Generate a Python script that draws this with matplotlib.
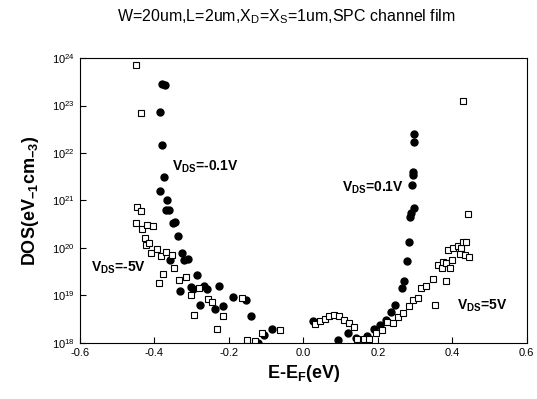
"""DOS vs E-EF for SPC channel film TFT, Vds = +/-0.1V and +/-5V."""

import numpy as np
import matplotlib
matplotlib.use("Agg")
import matplotlib.pyplot as plt

plt.rcParams["font.family"] = ["Liberation Sans", "DejaVu Sans"]
plt.rcParams["mathtext.fontset"] = "custom"
plt.rcParams["mathtext.rm"] = "Liberation Sans"
plt.rcParams["mathtext.bf"] = "Liberation Sans:bold"

# Vds = +/-0.1V (filled circles): energy (eV), log10(DOS)
e_01 = [-0.380, -0.373, -0.385, -0.379, -0.375, -0.384, -0.366, -0.369, -0.360,
        -0.350, -0.344, -0.336, -0.327, -0.321, -0.309, -0.357, -0.287, -0.332,
        -0.303, -0.296, -0.267, -0.260, -0.226, -0.278, -0.238, -0.215, -0.188,
        -0.153, -0.142, -0.106, -0.085, -0.123,
        0.025, 0.093, 0.121, 0.142, 0.170, 0.189, 0.205, 0.222, 0.235, 0.247,
        0.264, 0.270, 0.279, 0.284, 0.287, 0.289, 0.297, 0.293, 0.295, 0.295,
        0.297, 0.297]
log_01 = [23.45, 23.43, 22.86, 22.17, 21.49, 21.19, 21.01, 20.81, 20.81,
          20.52, 20.55, 20.25, 19.89, 19.75, 19.77, 19.75, 19.43, 19.10,
          19.17, 19.13, 19.21, 19.13, 19.20, 18.81, 18.71, 18.78, 18.96,
          18.91, 18.56, 18.16, 18.29, 18.00,
          18.46, 18.06, 18.20, 18.10, 18.15, 18.29, 18.38, 18.49, 18.66, 18.79,
          19.16, 19.31, 19.73, 20.13, 20.65, 20.73, 20.84, 21.33, 21.54, 21.60,
          22.24, 22.39]

# Vds = +/-5V (open squares)
e_5 = [-0.450, -0.437, -0.448, -0.437, -0.450, -0.434, -0.419, -0.403, -0.426,
       -0.423, -0.414, -0.408, -0.393, -0.382, -0.368, -0.354, -0.348, -0.377,
       -0.387, -0.333, -0.314, -0.302, -0.280, -0.294, -0.257, -0.246, -0.231,
       -0.215, -0.166, -0.151, -0.130, -0.110, -0.062,
       0.031, 0.044, 0.058, 0.070, 0.083, 0.096, 0.109, 0.123, 0.136, 0.144,
       0.162, 0.177, 0.195, 0.210, 0.225, 0.241, 0.254, 0.268, 0.283, 0.295,
       0.308, 0.317, 0.330, 0.347, 0.354, 0.362, 0.371, 0.375, 0.384, 0.393,
       0.383, 0.389, 0.401, 0.398, 0.415, 0.423, 0.429, 0.438, 0.421, 0.435,
       0.446, 0.442, 0.429]
log_5 = [23.85, 22.85, 20.87, 20.78, 20.52, 20.41, 20.49, 20.46, 20.22,
         20.07, 20.11, 19.89, 19.98, 19.83, 19.91, 19.85, 19.58, 19.45,
         19.26, 19.32, 19.39, 19.00, 19.15, 18.58, 18.92, 18.86, 18.30,
         18.57, 18.94, 18.06, 18.05, 18.22, 18.27,
         18.39, 18.46, 18.51, 18.57, 18.59, 18.56, 18.48, 18.43, 18.33, 18.09,
         18.08, 18.09, 18.20, 18.27, 18.44, 18.43, 18.55, 18.63, 18.78, 18.91,
         18.94, 19.16, 19.21, 19.34, 18.79, 19.64, 19.57, 19.71, 19.69, 19.58,
         19.30, 19.95, 19.99, 19.75, 20.05, 19.99, 20.12, 20.13, 19.88, 19.85,
         19.80, 20.71, 23.09]

dos_01 = 10 ** np.array(log_01)
dos_5 = 10 ** np.array(log_5)

fig = plt.figure(figsize=(5.37, 3.99), dpi=100)
ax = fig.add_axes([0.149, 0.1404, 0.832, 0.7142])

ax.plot(e_01, dos_01, "o", color="black", markersize=5, linestyle="none")
ax.plot(e_5, dos_5, "s", markerfacecolor="white", markeredgecolor="black",
        markeredgewidth=0.8, markersize=4.5, linestyle="none")

ax.set_yscale("log")
ax.set_xlim(-0.6, 0.6)
ax.set_ylim(1e18, 1e24)
ax.set_xticks([-0.6, -0.4, -0.2, 0.0, 0.2, 0.4, 0.6])
ax.set_xticklabels(["-0.6", "-0.4", "-0.2", "0.0", "0.2", "0.4", "0.6"])
ax.set_yticks([10.0 ** k for k in range(18, 25)])
ax.minorticks_off()
ax.tick_params(direction="in", labelsize=8, length=4, width=0.8,
               top=False, right=False)
for sp in ax.spines.values():
    sp.set_linewidth(0.8)

ax.set_xlabel(r"E-E$_{\mathbf{F}}$(eV)", fontsize=13, fontweight="bold",
              labelpad=4)
ax.set_ylabel(r"DOS(eV$_{\mathbf{-1}}$cm$_{\mathbf{-3}}$)", fontsize=13,
              fontweight="bold", labelpad=8)

lab = dict(fontsize=10, fontweight="bold", va="center", ha="left")
ax.text(-0.353, 10 ** 21.71, r"V$_{\mathbf{DS}}$=-0.1V", **lab)
ax.text(-0.570, 10 ** 19.58, r"V$_{\mathbf{DS}}$=-5V", **lab)
ax.text(0.105, 10 ** 21.26, r"V$_{\mathbf{DS}}$=0.1V", **lab)
ax.text(0.413, 10 ** 18.78, r"V$_{\mathbf{DS}}$=5V", **lab)

fig.text(286 / 537, 1 - 17 / 399,
         r"W=20um,L=2um,X$_{\mathrm{D}}$=X$_{\mathrm{S}}$=1um,SPC channel film",
         fontsize=11.5, ha="center", va="center")

fig.savefig("out.png", dpi=100)
